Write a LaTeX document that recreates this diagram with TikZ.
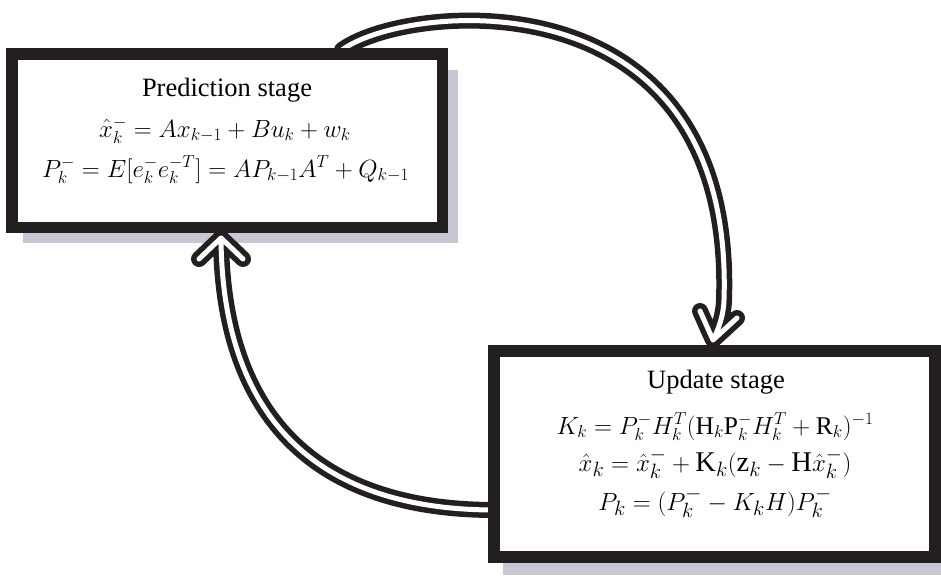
\documentclass[tikz,border=0pt]{standalone}
\usepackage{fontspec}
\setmainfont{Liberation Serif}
\usetikzlibrary{calc}
\definecolor{ink}{RGB}{35,31,32}
\definecolor{shadowc}{RGB}{200,199,212}
\tikzset{
  stagebox/.style={draw=ink, fill=white, inner sep=0pt, outer sep=0pt},
  txt/.style={inner sep=0pt, anchor=base, text height=18pt, text depth=7pt, font=\fontsize{26.5}{30}\selectfont},
  arrowouter/.style={draw=ink, line width=16pt, line cap=round, line join=round},
  arrowinner/.style={draw=white, line width=5pt, line cap=round, line join=round, preaction={arrowouter}}
}
\begin{document}
\begin{tikzpicture}[x=1pt, y=-1pt]
\useasboundingbox (0,0) rectangle (941,575);
% shadows
\fill[shadowc] (23,70) rectangle (458,243);
\fill[shadowc] (503,370) rectangle (941,575);
% arrow end points
\coordinate (a1s) at (342,50);
\coordinate (a1t) at (713,340);
\coordinate (a1l) at (700,311);
\coordinate (a1r) at (737,318);
\coordinate (a2s) at (495,510);
\coordinate (a2t) at (221,238);
\coordinate (a2l) at (199,259);
\coordinate (a2r) at (243,259);
% connectors
\draw[arrowinner] (a1s) .. controls (405,3) and (735,-30) .. (724,300)
  .. controls (723.6,316) and (718,330) .. (a1t)
  (a1l) -- (a1t) -- (a1r);
\draw[arrowinner] (a2s) .. controls (300,510) and (222,400) .. (a2t)
  (a2l) -- (a2t) -- (a2r);
% boxes
\node[stagebox, line width=11.5pt, minimum width=430.5pt, minimum height=173.5pt] (pred) at (227.25,140.75) {};
\node[stagebox, line width=12pt, minimum width=441.5pt, minimum height=205.5pt] (upd) at (714.25,453.75) {};
% texts
\node[txt] (p1) at (227,96) {Prediction stage};
\node[txt] (p2) at (225,137) {$\hat{x}{}_k^- = Ax_{k-1} + Bu_k + w_k$};
\node[txt, font=\fontsize{27}{30}\selectfont] (p3) at (225.5,177) {$P_k^- = E[e_k^- e_k^{-T}] = AP_{k-1}A^T + Q_{k-1}$};
\node[txt] (u1) at (716,388) {Update stage};
\node[txt, font=\fontsize{25.5}{30}\selectfont] (u2) at (715,434) {$K_k = P_k^- H_k^T(\mathrm{H}_k\mathrm{P}_k^- H_k^T + \mathrm{R}_k)^{-1}$};
\node[txt, font=\fontsize{28.5}{30}\selectfont] (u3) at (715,471) {$\hat{x}{}_k = \hat{x}{}_k^- + \mathrm{K}_k(\mathrm{z}_k - \mathrm{H}\hat{x}{}_k^-)$};
\node[txt, font=\fontsize{27.5}{30}\selectfont] (u4) at (715,510) {$P_k = (P_k^- - K_k H)P_k^-$};
\end{tikzpicture}
\end{document}
